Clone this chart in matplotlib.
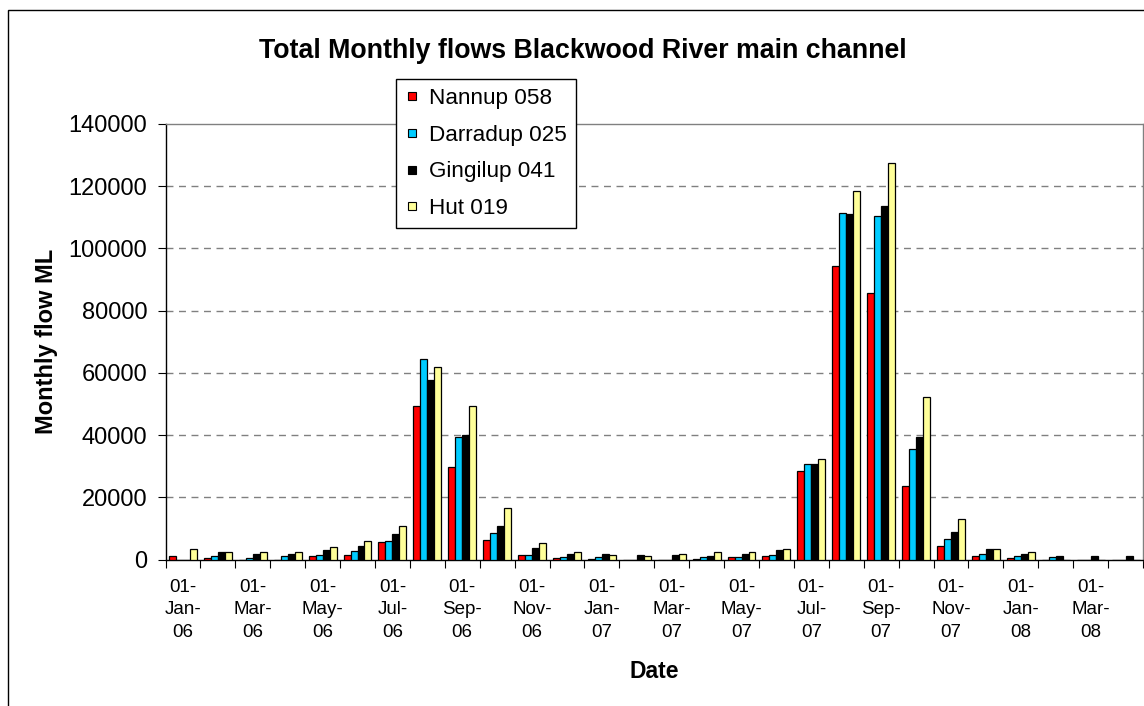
import matplotlib
matplotlib.use("Agg")
import matplotlib.pyplot as plt
import numpy as np
from matplotlib.patches import Rectangle
from matplotlib.lines import Line2D

plt.rcParams['font.family'] = ['Liberation Sans', 'DejaVu Sans']

# Monthly totals (ML), Jan 2006 - Apr 2008
months = ['Jan-06', 'Feb-06', 'Mar-06', 'Apr-06', 'May-06', 'Jun-06', 'Jul-06',
          'Aug-06', 'Sep-06', 'Oct-06', 'Nov-06', 'Dec-06', 'Jan-07', 'Feb-07',
          'Mar-07', 'Apr-07', 'May-07', 'Jun-07', 'Jul-07', 'Aug-07', 'Sep-07',
          'Oct-07', 'Nov-07', 'Dec-07', 'Jan-08', 'Feb-08', 'Mar-08', 'Apr-08']

nannup = [1200, 400, 0, 0, 1200, 1600, 5500, 49500, 29600, 6400, 1500, 600,
          200, 0, 0, 300, 700, 1200, 28500, 94300, 85600, 23700, 4400, 1100,
          500, 0, 0, 0]
darradup = [0, 1000, 600, 1200, 1600, 2700, 6000, 64500, 39300, 8600, 1500, 700,
            700, 0, 0, 700, 700, 1400, 30600, 111400, 110500, 35500, 6500, 1800,
            1200, 700, 0, 0]
gingilup = [0, 2300, 1900, 1900, 3000, 4500, 8300, 57700, 39900, 10800, 3800, 1900,
            1900, 1300, 1400, 1200, 1900, 3000, 30600, 111000, 113700, 39500, 8700, 3300,
            1900, 1200, 1200, 1200]
hut = [3300, 2300, 2300, 2300, 3900, 6000, 10800, 61800, 49500, 16600, 5300, 2300,
       1600, 1000, 1900, 2300, 2300, 3400, 32200, 118500, 127600, 52200, 13000, 3300,
       2300, 0, 0, 0]

series_names = ['Nannup 058', 'Darradup 025', 'Gingilup 041', 'Hut 019']
series_colors = ['#FF0000', '#00CCFF', '#000000', '#FFFF99']
series_data = [nannup, darradup, gingilup, hut]

W, H = 1144, 706
fig = plt.figure(figsize=(W / 100, H / 100), dpi=100)

# outer chart frame
fig.patches.append(Rectangle((8 / W, -0.1), 1.2, 1 - 10 / H + 0.1,
                             transform=fig.transFigure, fill=False,
                             edgecolor='black', linewidth=1.0))

ax_l, ax_r, ax_t, ax_b = 165.5, 1143, 124, 559.5
ax = fig.add_axes([ax_l / W, 1 - ax_b / H, (ax_r - ax_l) / W, (ax_b - ax_t) / H])

n = len(months)
x = np.arange(n)
bw = 0.2
for i, (vals, col) in enumerate(zip(series_data, series_colors)):
    ax.bar(x + (i - 1.5) * bw, vals, width=bw, color=col,
           edgecolor='black', linewidth=0.9, zorder=3)

ax.set_xlim(-0.5, n - 0.5)
ax.set_ylim(0, 140000)
ax.set_yticks(np.arange(0, 140001, 20000))
ax.tick_params(axis='y', labelsize=17, length=6, width=0.8, direction='out', pad=7)

# gridlines
for v in np.arange(20000, 140000, 20000):
    ax.axhline(v, color='#808080', linewidth=1.0, linestyle=(0, (5, 4)), zorder=1)

# category boundaries as major ticks, labels every other month on minor ticks
ax.set_xticks(np.arange(-0.5, n, 1))
ax.set_xticklabels([])
ax.tick_params(axis='x', which='major', length=6, width=0.8, direction='out')
lab_pos = x[::2]
lab_txt = ['01-\n%s-\n%s' % (m.split('-')[0], m.split('-')[1]) for m in months[::2]]
ax.set_xticks(lab_pos, minor=True)
ax.set_xticklabels(lab_txt, minor=True, fontsize=13.5, linespacing=1.42)
ax.tick_params(axis='x', which='minor', length=0, pad=14)

for s in ['top', 'right']:
    ax.spines[s].set_color('#808080')
    ax.spines[s].set_linewidth(1.0)
ax.spines['left'].set_linewidth(1.0)
ax.spines['bottom'].set_linewidth(1.0)

ax.set_ylabel('Monthly flow ML', fontsize=17, fontweight='bold', labelpad=8)
ax.set_xlabel('Date', fontsize=16.5, fontweight='bold', labelpad=14)
fig.text(583 / W, 1 - 51 / H, 'Total Monthly flows Blackwood River main channel',
         fontsize=19.3, fontweight='bold', ha='center', va='center')

# square swatches for the legend
handles = [Line2D([], [], linestyle='none', marker='s', markersize=6.2,
                  markerfacecolor=c, markeredgecolor='black', markeredgewidth=0.8)
           for c in series_colors]
leg = ax.legend(handles, series_names, loc='upper left',
                bbox_to_anchor=(396 / W, 1 - 79 / H), bbox_transform=fig.transFigure,
                fontsize=16.2, frameon=True, fancybox=False, edgecolor='black',
                framealpha=1, handlelength=0.6, handletextpad=0.45,
                labelspacing=0.7, borderpad=0.4, borderaxespad=0)
leg.get_frame().set_linewidth(1.0)
leg.set_zorder(5)

fig.savefig('out.png', dpi=100)
